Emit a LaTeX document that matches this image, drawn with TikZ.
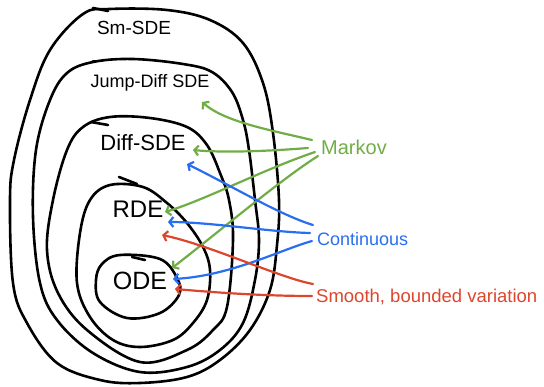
\documentclass[tikz,border=0pt]{standalone}
\usepackage{fontspec}
\setmainfont{Liberation Sans}
\usetikzlibrary{arrows.meta}
\definecolor{mgreen}{RGB}{112,173,71}
\definecolor{mblue}{RGB}{40,110,240}
\definecolor{mred}{RGB}{220,70,45}
\begin{document}
\begin{tikzpicture}[x=1pt,y=-1pt,
  setline/.style={line width=2.6pt, line cap=round, line join=round},
  lbl/.style={inner sep=0pt},
  arr/.style={line width=2.2pt, line cap=round, -{Straight Barb[length=4pt,width=10pt]}},
  fs/.style={font=\fontsize{#1}{#1}\selectfont}]
\useasboundingbox (0,0) rectangle (544,386);
% nested sets
\draw[setline] plot[smooth cycle, tension=0.6] coordinates {(110,9) (167,10) (210,20) (243,43) (263,83) (273,133) (279,200) (277,245) (270,290) (250,330) (220,360) (187,377) (140,383) (100,380) (57,363) (27,323) (13,283) (10,200) (14,160) (30,100) (50,50) (83,14)};
\draw[setline] (93,8) -- (108,11);
\draw[setline] plot[smooth cycle, tension=0.6] coordinates {(133,59) (183,64) (212,72) (232,92) (243,120) (249,150) (255,200) (259,240) (255,280) (243,323) (220,350) (187,367) (140,372) (93,353) (57,320) (40,283) (33,217) (36,150) (50,100) (67,73) (93,62)};
\draw[setline] (93,61) -- (102,61);
\draw[setline] plot[smooth cycle, tension=0.6] coordinates {(110,117) (150,118) (187,127) (207,145) (220,173) (229,200) (233,240) (227,307) (213,330) (187,350) (140,362) (87,330) (58,293) (47,250) (53,200) (67,150) (83,127)};
\draw[setline] (91,122) -- (108,125);
\draw[setline] plot[smooth cycle, tension=0.6] coordinates {(110,185) (143,187) (167,203) (187,223) (203,247) (210,270) (207,300) (193,323) (173,340) (140,347) (113,340) (90,317) (77,283) (80,233) (90,200)};
\draw[setline] (119,177) -- (137,184);
\draw[setline] plot[smooth cycle, tension=0.6] coordinates {(120,255) (160,259) (177,278) (179,295) (160,313) (127,318) (100,302) (96,280) (102,264)};
\draw[setline] (132,257) -- (145,260);
% labels
\node[lbl, fs=19] (sm) at (134,28) {Sm-SDE};
\node[lbl, fs=18] (jd) at (150,83) {Jump-Diff SDE};
\node[lbl, fs=22] (df) at (143,143) {Diff-SDE};
\node[lbl, fs=24] (rde) at (138,209) {RDE};
\node[lbl, fs=25] (ode) at (140,281) {ODE};
\node[lbl, fs=20, text=mgreen, anchor=west] (markov) at (321,147) {Markov};
\node[lbl, fs=18, text=mblue, anchor=west] (cont) at (317,239) {Continuous};
\node[lbl, fs=18.5, text=mred, anchor=west] (smooth) at (316,297) {Smooth, bounded variation};
% connector end points
\coordinate (g1) at (312,140); \coordinate (g2) at (308,148);
\coordinate (g3) at (315,152); \coordinate (g4) at (318,156);
\coordinate (b1) at (313,225); \coordinate (b2) at (310,233); \coordinate (b3) at (312,241);
\coordinate (r1) at (313,284); \coordinate (r2) at (312,296);
\coordinate (tg1) at (202,102); \coordinate (tg2) at (193,150);
\coordinate (tg3) at (165,212); \coordinate (tg4) at (172,268);
\coordinate (tb1) at (187,164); \coordinate (tb2) at (168,222); \coordinate (tb3) at (173,279);
\coordinate (tr1) at (162,235); \coordinate (tr2) at (175,289);
% green
\draw[arr, mgreen] (g1) .. controls (270,130) and (225,122) .. (tg1);
\draw[arr, mgreen] (g2) .. controls (270,151) and (225,153) .. (tg2);
\draw[arr, mgreen] (g3) .. controls (262,170) and (205,200) .. (tg3);
\draw[arr, mgreen] (g4) .. controls (280,180) and (215,235) .. (tg4);
% blue
\draw[arr, mblue] (b1) .. controls (280,215) and (230,185) .. (tb1);
\draw[arr, mblue] (b2) .. controls (270,232) and (210,222) .. (tb2);
\draw[arr, mblue] (b3) .. controls (280,250) and (230,276) .. (tb3);
% red
\draw[arr, mred] (r1) .. controls (280,278) and (210,245) .. (tr1);
\draw[arr, mred] (r2) .. controls (260,296) and (210,292) .. (tr2);
\end{tikzpicture}
\end{document}
